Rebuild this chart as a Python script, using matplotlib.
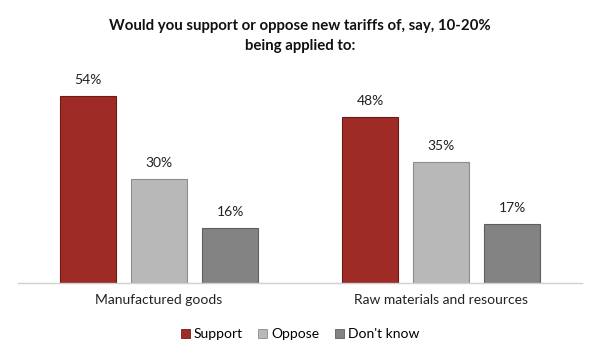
import matplotlib
matplotlib.use("Agg")
import matplotlib.pyplot as plt
import numpy as np
from matplotlib.patches import Patch

plt.rcParams['font.family'] = ['Lato', 'DejaVu Sans']

title = "Would you support or oppose new tariffs of, say, 10-20%\nbeing applied to:"
categories = ["Manufactured goods", "Raw materials and resources"]
series_names = ["Support", "Oppose", "Don't know"]
support = [54, 48]
oppose = [30, 35]
dont_know = [16, 17]
colors = ["#9E2B25", "#B8B8B8", "#838383"]
edge_colors = ["#6E1A16", "#8C8C8C", "#5E5E5E"]

series = [support, oppose, dont_know]

fig = plt.figure(figsize=(6, 3.6), dpi=100)
ax = fig.add_axes([0.03, 0.214, 0.94, 0.59])

x = np.arange(len(categories))
width = 0.2
offsets = [-0.252, 0, 0.252]
for vals, off, c, ec in zip(series, offsets, colors, edge_colors):
    bars = ax.bar(x + off, vals, width, color=c, edgecolor=ec, linewidth=0.8)
    for b, v in zip(bars, vals):
        ax.annotate(f"{v}%", (b.get_x() + b.get_width() / 2, v), xytext=(0, 7),
                    textcoords="offset points", ha="center", va="bottom",
                    fontsize=10, color="#222222")

ax.set_xlim(-0.5, 1.5)
ax.set_ylim(0, 61.3)
ax.set_yticks([])
ax.set_xticks(x)
ax.set_xticklabels(categories, fontsize=10, color="#222222")
ax.tick_params(axis='x', length=0, pad=8)
for s in ["top", "left", "right"]:
    ax.spines[s].set_visible(False)
ax.spines["bottom"].set_color("#D0D0D0")
ax.spines["bottom"].set_linewidth(1.0)

fig.text(0.5, 0.9, title, ha="center", va="center", fontsize=10.8,
         fontweight="bold", linespacing=1.55, color="#111111")

handles = [Patch(facecolor=c, edgecolor=ec, linewidth=0.6) for c, ec in zip(colors, edge_colors)]
fig.legend(handles, series_names, loc="center", bbox_to_anchor=(0.5, 0.072), ncol=3,
           frameon=False, fontsize=10, handlelength=0.65, handleheight=0.65,
           handletextpad=0.3, columnspacing=1.1)

fig.savefig("out.png", dpi=100, facecolor="white")
